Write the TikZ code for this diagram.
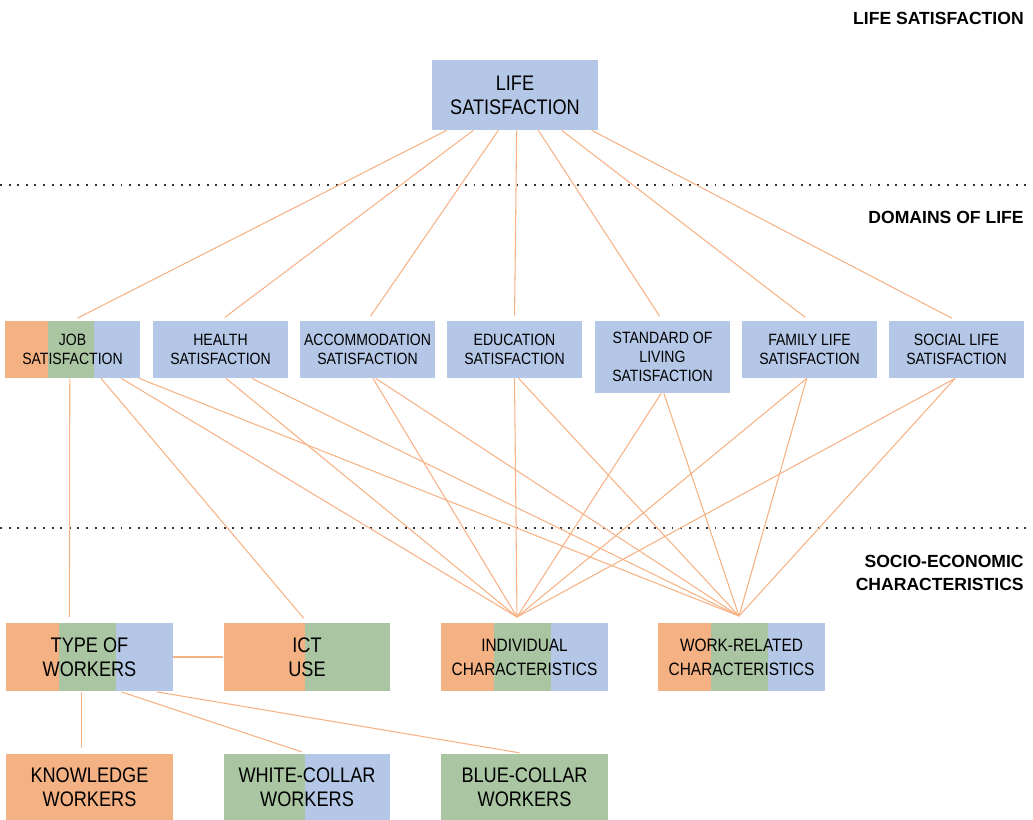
\documentclass[tikz,border=0pt]{standalone}
\usepackage{fontspec}
\setmainfont{Liberation Sans}[FakeStretch=0.86]
\newfontfamily\headfont{Liberation Sans}
\usetikzlibrary{calc}
\definecolor{boxOrange}{RGB}{244,177,131}
\definecolor{boxGreen}{RGB}{169,197,162}
\definecolor{boxBlue}{RGB}{180,199,231}
\definecolor{linkOrange}{RGB}{247,178,132}
\definecolor{dotGrey}{RGB}{50,50,50}
\tikzset{boxbase/.style={
    inner sep=0pt, align=center, text=black
  },
  smalltext/.style={font=\fontsize{9.3}{10.8}\selectfont},
  midtext/.style={font=\fontsize{10.2}{13.6}\selectfont},
  bigtext/.style={font=\fontsize{12}{13.6}\selectfont},
  domainbox/.style={
    boxbase, smalltext, fill=boxBlue,
    minimum width=2.7cm, minimum height=1.14cm
  },
  sociobox/.style={
    boxbase, minimum width=3.34cm, minimum height=1.38cm
  },
  workerbox/.style={
    boxbase, bigtext, minimum width=3.34cm, minimum height=1.32cm
  },
  trifill/.style={
    fill=boxBlue,
    path picture={
      \fill[boxOrange] (path picture bounding box.south west) rectangle
      ($(path picture bounding box.north west)!0.32!(path picture bounding box.north east)$);
      \fill[boxGreen] ($(path picture bounding box.south west)!0.32!(path picture bounding box.south east)$) rectangle
      ($(path picture bounding box.north west)!0.66!(path picture bounding box.north east)$);
    }
  },
  duofill/.style 2 args={
    fill=#2,
    path picture={
      \fill[#1] (path picture bounding box.south west) rectangle
      ($(path picture bounding box.north west)!0.49!(path picture bounding box.north east)$);
    }
  },
  linkline/.style={draw=linkOrange, line width=0.6pt},
  tobox/.style={linkline, shorten >=3pt},
  levelline/.style={draw=dotGrey, line width=1.1pt, dash pattern=on 1.1pt off 3.8pt},
  heading/.style={anchor=east, align=right, inner sep=0pt, font=\headfont\fontsize{10}{13}\selectfont\bfseries}
}
\begin{document}
\begin{tikzpicture}[x=0.02cm, y=-0.02cm]
  \useasboundingbox (0,0) rectangle (1033,820);
  % levels
  \draw[levelline] (0,185) -- (1033,185);
  \draw[levelline] (0,528) -- (1033,528);
  \node[heading] (hlife) at (1024,18) {LIFE SATISFACTION};
  \node[heading] (hdomain) at (1024,217) {DOMAINS OF LIFE};
  \node[heading] (hsocio) at (1024,573) {SOCIO-ECONOMIC\\CHARACTERISTICS};
  % life satisfaction
  \node[boxbase, bigtext, fill=boxBlue, minimum width=3.32cm, minimum height=1.4cm] (life) at (515,95) {LIFE\\SATISFACTION};
  % domains of life
  \node[domainbox, trifill] (job) at (72.5,349.5) {JOB\\SATISFACTION};
  \node[domainbox] (health) at (220.5,349.5) {HEALTH\\SATISFACTION};
  \node[domainbox] (accom) at (367.5,349.5) {ACCOMMODATION\\SATISFACTION};
  \node[domainbox] (educ) at (514.5,349.5) {EDUCATION\\SATISFACTION};
  \node[domainbox, minimum height=1.44cm] (living) at (662.5,357) {STANDARD OF\\LIVING\\SATISFACTION};
  \node[domainbox] (family) at (809.5,349.5) {FAMILY LIFE\\SATISFACTION};
  \node[domainbox] (social) at (956.5,349.5) {SOCIAL LIFE\\SATISFACTION};
  % socio-economic characteristics
  \node[sociobox, bigtext, trifill] (type) at (89.5,657) {TYPE OF\\WORKERS};
  \node[sociobox, bigtext, duofill={boxOrange}{boxGreen}] (ict) at (307,657) {ICT\\USE};
  \node[sociobox, midtext, trifill] (indiv) at (524.5,657) {INDIVIDUAL\\CHARACTERISTICS};
  \node[sociobox, midtext, trifill] (workrel) at (741.5,657) {WORK-RELATED\\CHARACTERISTICS};
  \node[workerbox, fill=boxOrange] (know) at (89.5,787) {KNOWLEDGE\\WORKERS};
  \node[workerbox, duofill={boxGreen}{boxBlue}] (white) at (307,787) {WHITE-COLLAR\\WORKERS};
  \node[workerbox, fill=boxGreen] (blue) at (524.5,787) {BLUE-COLLAR\\WORKERS};
  \coordinate (indtop) at (517,617);
  \coordinate (worktop) at (739,616);
  % links
  \foreach \f/\t in {0.09/job,0.25/health,0.40/accom,0.51/educ,0.64/living,0.78/family,0.96/social}
    \draw[tobox] ($(life.south west)!\f!(life.south east)$) -- (\t.north);
  \foreach \dom/\fa/\fb in {job/0.86/0.99,health/0.54/0.73,accom/0.54/0.56,educ/0.5/0.53,living/0.49/0.51,family/0.48/0.48,social/0.49/0.49} {
    \draw[linkline] ($(\dom.south west)!\fa!(\dom.south east)$) -- (indtop);
    \draw[linkline] ($(\dom.south west)!\fb!(\dom.south east)$) -- (worktop);
  }
  \draw[tobox] ($(job.south west)!0.48!(job.south east)$) -- ($(type.north west)!0.38!(type.north east)$);
  \draw[tobox] ($(job.south west)!0.71!(job.south east)$) -- (ict.north);
  \draw[linkline] (type.east) -- (ict.west);
  \draw[tobox] ($(type.south west)!0.455!(type.south east)$) -- ($(know.north west)!0.455!(know.north east)$);
  \draw[tobox] ($(type.south west)!0.69!(type.south east)$) -- (white.north);
  \draw[tobox] ($(type.south west)!0.9!(type.south east)$) -- (blue.north);
\end{tikzpicture}
\end{document}
